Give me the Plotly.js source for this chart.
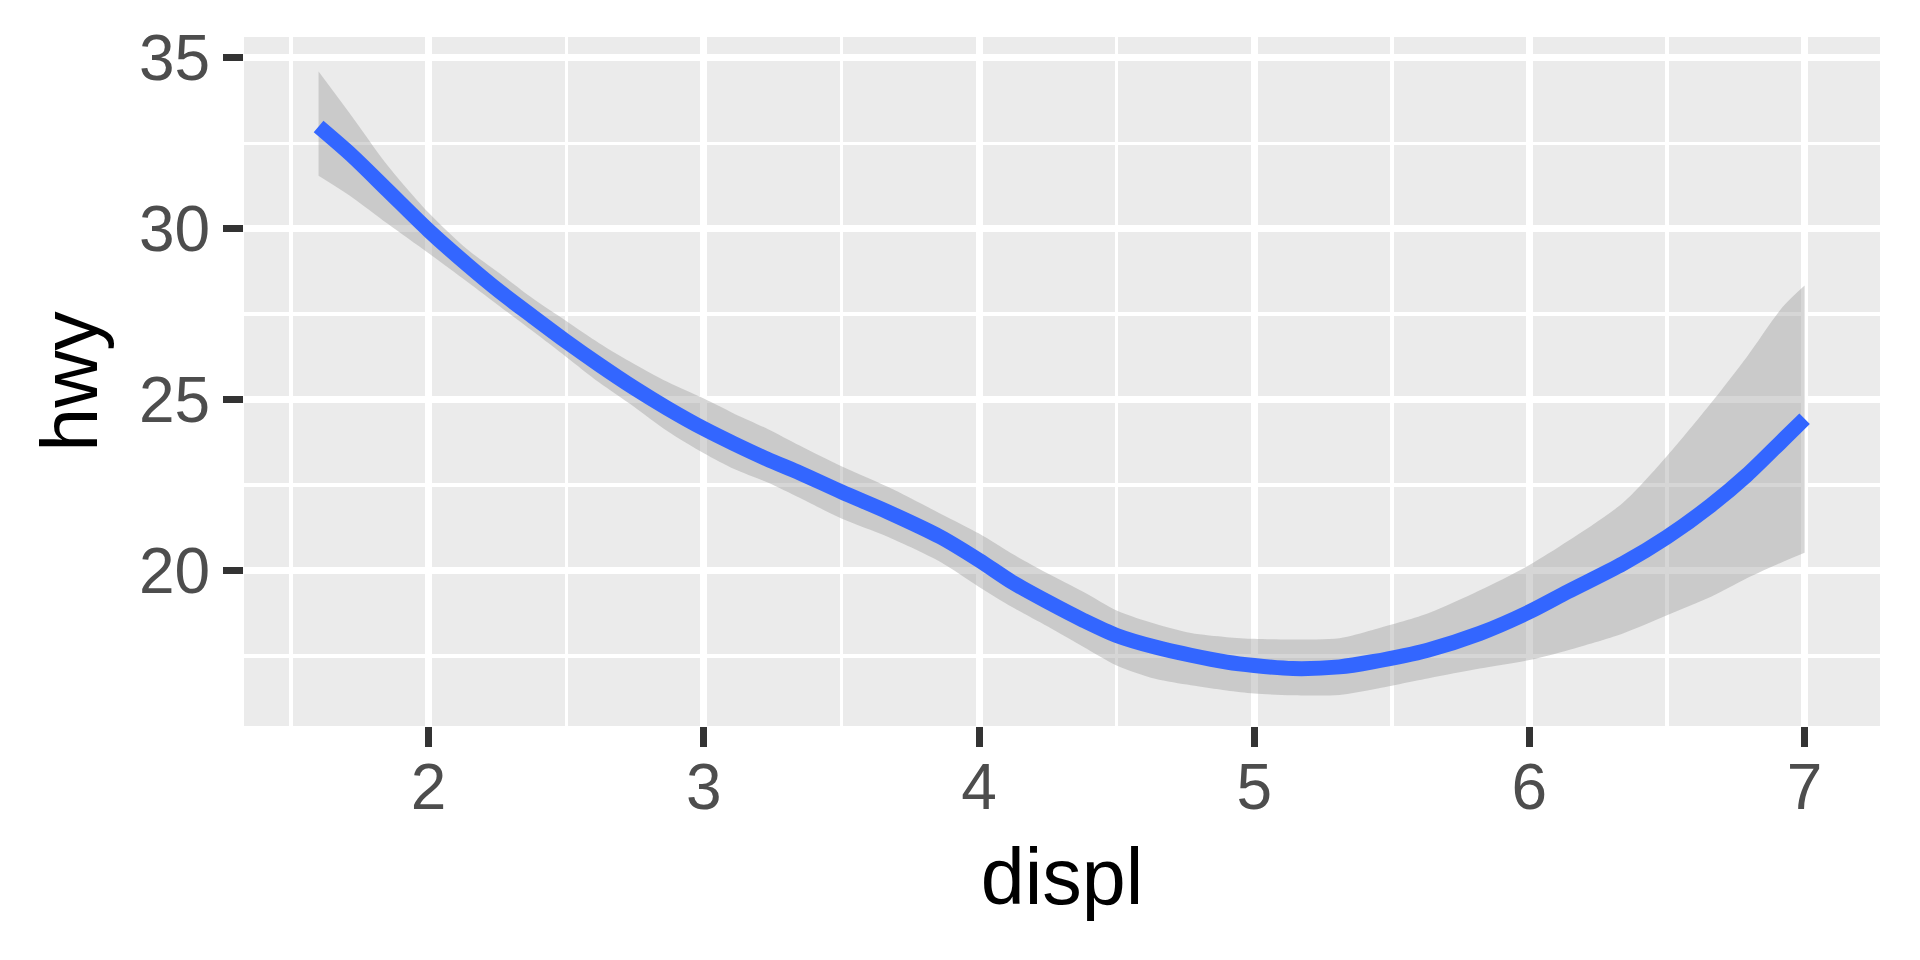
<!DOCTYPE html>
<html>
<head>
<meta charset="utf-8">
<script src="https://cdn.plot.ly/plotly-3.0.1.min.js"></script>
<style>html,body{margin:0;padding:0;background:#fff;}#chart{width:1920px;height:960px;}</style>
</head>
<body>
<div id="chart"></div>
<script>
// loess smooth of hwy ~ displ
var displ    = [1.60, 1.72, 1.85, 2.00, 2.14, 2.26, 2.38, 2.50, 2.62, 2.745, 2.867, 3.00, 3.11, 3.23, 3.35, 3.50, 3.67, 3.86, 4.00, 4.12, 4.25, 4.38, 4.50, 4.64, 4.77, 4.90, 5.00, 5.14, 5.31, 5.43, 5.63, 5.82, 6.00, 6.14, 6.34, 6.50, 6.66, 6.79, 6.92, 7.00];
var hwyFit   = [32.99, 32.15, 31.13, 29.95, 28.95, 28.15, 27.42, 26.70, 26.02, 25.35, 24.75, 24.15, 23.71, 23.26, 22.85, 22.30, 21.71, 20.98, 20.30, 19.66, 19.08, 18.54, 18.10, 17.76, 17.52, 17.32, 17.22, 17.13, 17.18, 17.33, 17.67, 18.16, 18.79, 19.38, 20.20, 20.98, 21.91, 22.79, 23.81, 24.44];
var hwyUpper = [34.60, 33.30, 31.86, 30.47, 29.40, 28.68, 27.95, 27.30, 26.65, 26.05, 25.52, 25.03, 24.59, 24.15, 23.65, 23.05, 22.44, 21.66, 21.08, 20.49, 19.91, 19.37, 18.83, 18.44, 18.17, 18.05, 18.00, 17.98, 18.02, 18.26, 18.74, 19.42, 20.16, 20.86, 21.98, 23.35, 24.90, 26.25, 27.71, 28.34];
var hwyLower = [31.55, 30.93, 30.15, 29.28, 28.45, 27.72, 26.99, 26.25, 25.50, 24.80, 24.08, 23.43, 22.97, 22.58, 22.12, 21.52, 20.98, 20.25, 19.52, 18.93, 18.36, 17.76, 17.22, 16.83, 16.64, 16.49, 16.40, 16.35, 16.36, 16.52, 16.84, 17.13, 17.38, 17.67, 18.16, 18.69, 19.23, 19.77, 20.25, 20.52];
var xTicks = [2, 3, 4, 5, 6, 7];
var yTicks = [20, 25, 30, 35];
var xTitle = "displ";
var yTitle = "hwy";

var FONT = "Liberation Sans, Arial, sans-serif";

var traces = [
  {x: displ, y: hwyLower, type: "scatter", mode: "lines", line: {width: 0, color: "rgba(0,0,0,0)", shape: "spline", smoothing: 0.8}, hoverinfo: "skip", showlegend: false},
  {x: displ, y: hwyUpper, type: "scatter", mode: "lines", fill: "tonexty", fillcolor: "rgba(153,153,153,0.4)", line: {width: 0, color: "rgba(0,0,0,0)", shape: "spline", smoothing: 0.8}, hoverinfo: "skip", showlegend: false},
  {x: displ, y: hwyFit, type: "scatter", mode: "lines", line: {color: "#3366FF", width: 15, shape: "spline", smoothing: 0.8}, showlegend: false}
];

var layout = {
  width: 1920, height: 960,
  paper_bgcolor: "#FFFFFF",
  plot_bgcolor: "#EBEBEB",
  margin: {l: 244, r: 40, t: 37, b: 234, pad: 0},
  showlegend: false,
  font: {family: FONT, color: "#4D4D4D"},
  xaxis: {
    range: [1.329, 7.274],
    tickmode: "array", tickvals: xTicks, ticktext: xTicks.map(String),
    ticks: "outside", ticklen: 20, tickwidth: 7, tickcolor: "#333333",
    ticklabelstandoff: -15,
    tickfont: {family: FONT, size: 64, color: "#4D4D4D"},
    showgrid: true, gridcolor: "#FFFFFF", gridwidth: 7,
    minor: {dtick: 0.5, tick0: 0, showgrid: true, gridcolor: "#FFFFFF", gridwidth: 3.5, ticks: ""},
    zeroline: false, showline: false,
    title: {text: xTitle, font: {family: FONT, size: 79, color: "#000000"}, standoff: 26}
  },
  yaxis: {
    range: [15.45, 35.61],
    tickmode: "array", tickvals: yTicks, ticktext: yTicks.map(String),
    ticks: "outside", ticklen: 20, tickwidth: 7, tickcolor: "#333333",
    tickfont: {family: FONT, size: 64, color: "#4D4D4D"},
    showgrid: true, gridcolor: "#FFFFFF", gridwidth: 7,
    minor: {dtick: 2.5, tick0: 0, showgrid: true, gridcolor: "#FFFFFF", gridwidth: 3.5, ticks: ""},
    zeroline: false, showline: false,
    title: {text: yTitle, font: {family: FONT, size: 79, color: "#000000"}, standoff: 15}
  }
};

Plotly.newPlot("chart", traces, layout, {displayModeBar: false, staticPlot: true});
</script>
</body>
</html>
